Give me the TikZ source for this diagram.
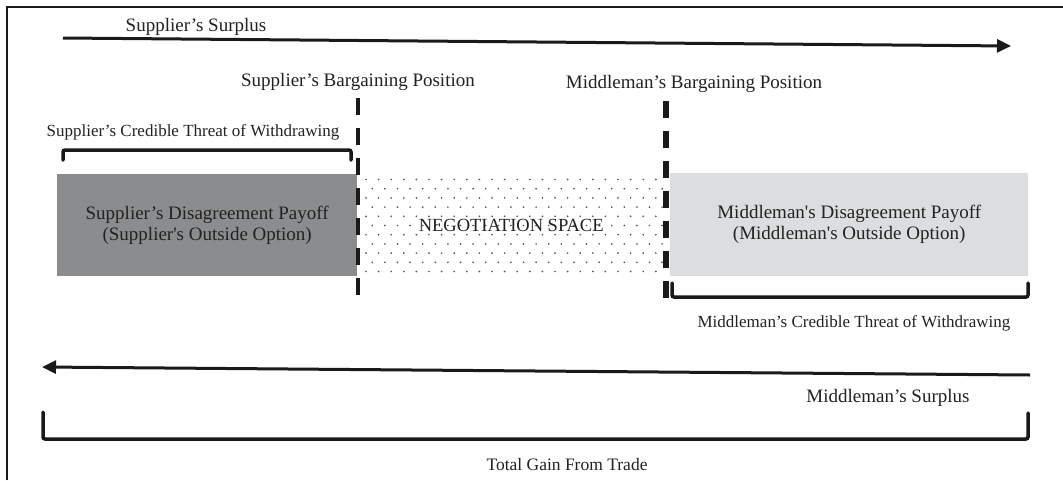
\documentclass[tikz,border=0pt]{standalone}
\usepackage{fontspec}
\setmainfont{Liberation Serif}
\usetikzlibrary{arrows.meta}
\definecolor{ink}{HTML}{1A1A1A}
\definecolor{txtcol}{HTML}{222222}
\definecolor{supgray}{HTML}{8B8C8E}
\definecolor{midgray}{HTML}{DCDDDF}
\definecolor{dotcol}{HTML}{555555}
\tikzset{
  lbl/.style={text=txtcol, inner sep=0pt, font=\fontsize{19}{20}\selectfont},
  lblsmall/.style={text=txtcol, inner sep=0pt, font=\fontsize{17}{18}\selectfont},
  frameline/.style={line width=1.5pt, ink},
  bracketline/.style={line width=3.5pt, ink, line cap=round, rounded corners=2pt},
  divider/.style={line width=4.5pt, ink, dash pattern=on 17pt off 13pt},
  surplusarrow/.style={line width=3pt, ink, -{Triangle[length=14pt,width=13pt]}},
  payoffbox/.style={inner sep=0pt, align=center, text=txtcol,
     font=\fontsize{19}{21}\selectfont, anchor=north west},
}
\begin{document}
\begin{tikzpicture}[x=1pt,y=-1pt]
\useasboundingbox (0,0) rectangle (1063,480);
\fill[white] (0,0) rectangle (1063,480);
% frame
\coordinate (fbl) at (7,480);
\coordinate (ftl) at (7,7);
\coordinate (ftr) at (1063,7);
\draw[frameline] (fbl) -- (ftl) -- (ftr);

% supplier's surplus
\node[lbl] (supsurplus) at (196,27) {Supplier’s Surplus};
\coordinate (supA) at (63,38);
\coordinate (supB) at (1011,46);
\draw[surplusarrow] (supA) -- (supB);

% bargaining position labels
\node[lbl] (supbarg) at (358,82) {Supplier’s Bargaining Position};
\node[lbl] (midbarg) at (694,84) {Middleman’s Bargaining Position};

% supplier's credible threat
\node[lblsmall] (supthreat) at (193,132) {Supplier’s Credible Threat of Withdrawing};
\coordinate (sbr1) at (63,160);
\coordinate (sbr2) at (63,150);
\coordinate (sbr3) at (351,150);
\coordinate (sbr4) at (351,160);
\draw[bracketline] (sbr1) -- (sbr2) -- (sbr3) -- (sbr4);

% boxes
\node[payoffbox, fill=supgray, minimum width=300pt, minimum height=102pt]
  (supbox) at (57,174) {Supplier’s Disagreement Payoff\\(Supplier\textquotesingle s Outside Option)};
\node[payoffbox, fill=midgray, minimum width=358pt, minimum height=103pt]
  (midbox) at (670,173) {Middleman\textquotesingle s Disagreement Payoff\\(Middleman\textquotesingle s Outside Option)};

% negotiation space dots
\foreach \r in {0,...,10}{
  \pgfmathsetmacro{\yy}{179.5+9.2*\r}
  \pgfmathsetmacro{\off}{mod(\r,2)*6.3}
  \foreach \c in {0,...,23}{
    \fill[dotcol] ({366+\off+12.6*\c},\yy) circle (0.95pt);
  }
}
\node[inner sep=0pt, minimum width=302pt, minimum height=102pt, anchor=north west,
  text=txtcol, font=\fontsize{18.5}{20}\selectfont] (negspace) at (360,174) {NEGOTIATION SPACE};

% dashed dividers
\coordinate (supdivT) at (358,98);
\coordinate (supdivB) at (358,295);
\draw[divider] (supdivT) -- (supdivB);
\coordinate (middivT) at (666,101);
\coordinate (middivB) at (666,298);
\draw[divider, line width=6pt] (middivT) -- (middivB);

% middleman's credible threat
\coordinate (mbr1) at (672,283);
\coordinate (mbr2) at (672,297);
\coordinate (mbr3) at (1028,297);
\coordinate (mbr4) at (1028,283);
\draw[bracketline] (mbr1) -- (mbr2) -- (mbr3) -- (mbr4);
\node[lblsmall] (midthreat) at (854,323) {Middleman’s Credible Threat of Withdrawing};

% middleman's surplus
\coordinate (midA) at (1030,375);
\coordinate (midB) at (42,367);
\draw[surplusarrow] (midA) -- (midB);
\node[lbl] (midsurplus) at (888,398) {Middleman’s Surplus};

% total gain
\coordinate (tbr1) at (43,412);
\coordinate (tbr2) at (43,439);
\coordinate (tbr3) at (1028,439);
\coordinate (tbr4) at (1028,413);
\draw[bracketline] (tbr1) -- (tbr2) -- (tbr3) -- (tbr4);
\node[font=\fontsize{17.5}{19}\selectfont, text=txtcol, inner sep=0pt] (totalgain) at (567,465) {Total Gain From Trade};
\end{tikzpicture}
\end{document}
